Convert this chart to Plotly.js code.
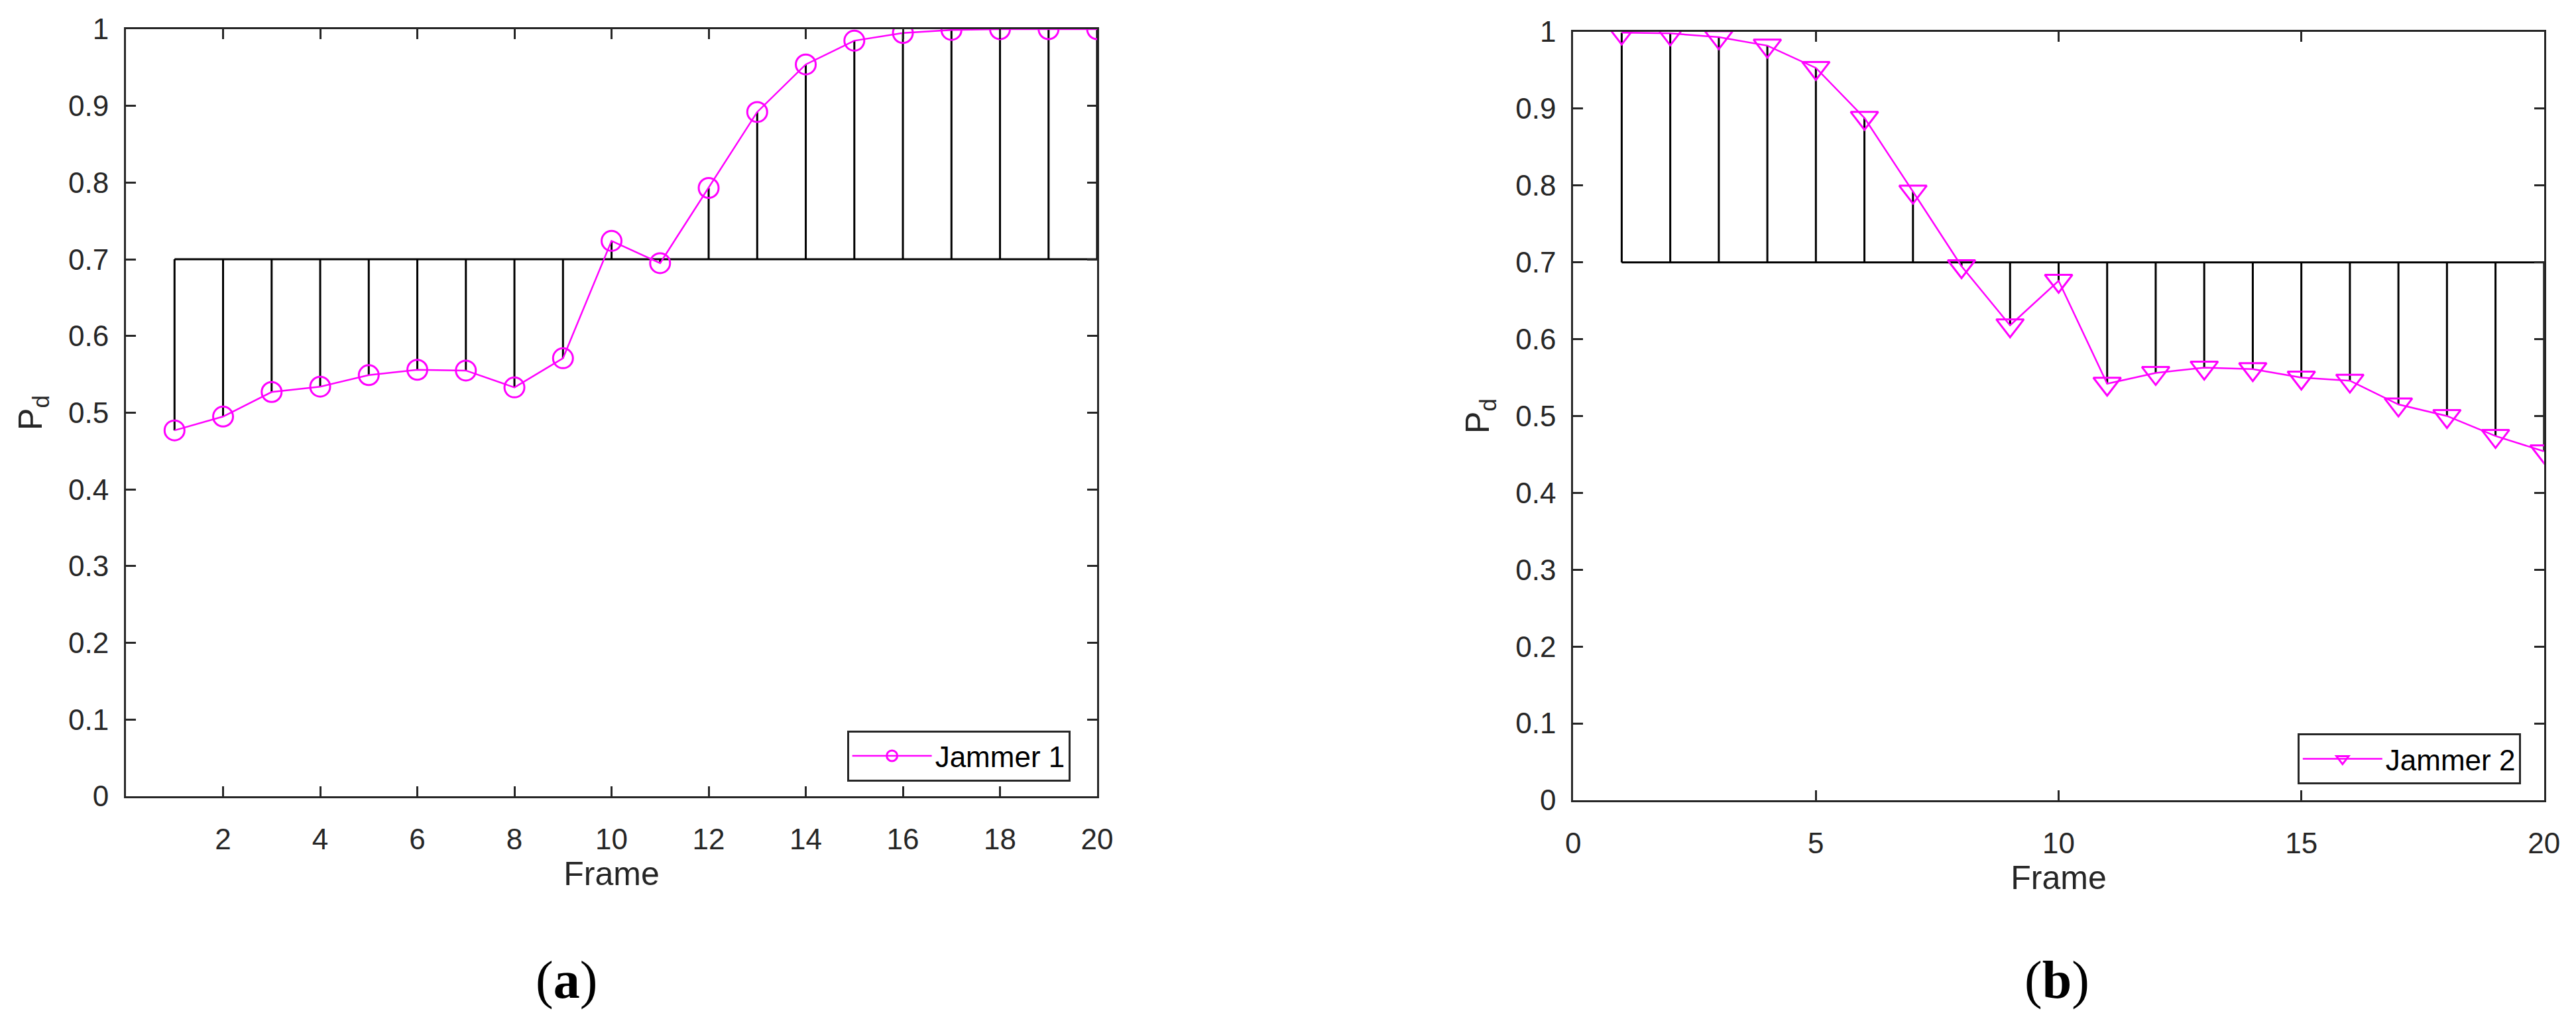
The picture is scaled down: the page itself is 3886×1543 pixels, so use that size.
<!DOCTYPE html>
<html>
<head>
<meta charset="utf-8">
<script src="https://cdn.plot.ly/plotly-3.0.1.min.js"></script>
<style>
  html, body { margin: 0; padding: 0; background: #ffffff; }
  #chart { width: 3886px; height: 1543px; }
</style>
</head>
<body>
<div id="chart"></div>
<script>
// Detection probability per frame
const frames = [1, 2, 3, 4, 5, 6, 7, 8, 9, 10, 11, 12, 13, 14, 15, 16, 17, 18, 19, 20];
const jammer1Pd = [0.477, 0.495, 0.527, 0.534, 0.549, 0.556, 0.555, 0.533, 0.571, 0.724,
                   0.695, 0.793, 0.892, 0.954, 0.985, 0.995, 0.999, 1.0, 1.0, 1.0];
const jammer2Pd = [0.999, 0.998, 0.993, 0.982, 0.953, 0.888, 0.792, 0.695, 0.618, 0.676,
                   0.542, 0.556, 0.563, 0.561, 0.550, 0.546, 0.515, 0.500, 0.474, 0.454];
const baseValue = 0.7;   // stem base (threshold)

const xTicksA = [2, 4, 6, 8, 10, 12, 14, 16, 18, 20];
const xTicksB = [0, 5, 10, 15, 20];
const yTicks = [0, 0.1, 0.2, 0.3, 0.4, 0.5, 0.6, 0.7, 0.8, 0.9, 1];
const yTickText = ['0', '0.1', '0.2', '0.3', '0.4', '0.5', '0.6', '0.7', '0.8', '0.9', '1'];

const axisColor = '#262626';
const magenta = '#FF00FF';
const sansFont = 'Liberation Sans, Arial, Helvetica, sans-serif';
const serifFont = 'Liberation Serif, Times New Roman, serif';

// stem lines: vertical segments from the base value to each point
function stemTrace(x, y, xa, ya) {
  const sx = [], sy = [];
  x.forEach((xi, i) => {
    sx.push(xi, xi, null);
    sy.push(baseValue, y[i], null);
  });
  return {
    x: sx, y: sy, xaxis: xa, yaxis: ya,
    type: 'scatter', mode: 'lines',
    line: { color: '#000000', width: 3 },
    showlegend: false, hoverinfo: 'skip'
  };
}

function baseTrace(x, xa, ya) {
  return {
    x: [x[0], x[x.length - 1]], y: [baseValue, baseValue], xaxis: xa, yaxis: ya,
    type: 'scatter', mode: 'lines',
    line: { color: '#000000', width: 3 },
    showlegend: false, hoverinfo: 'skip'
  };
}

const traces = [
  baseTrace(frames, 'x', 'y'),
  stemTrace(frames, jammer1Pd, 'x', 'y'),
  {
    x: frames, y: jammer1Pd, xaxis: 'x', yaxis: 'y',
    type: 'scatter', mode: 'lines+markers', name: 'Jammer 1',
    line: { color: magenta, width: 2.5 },
    marker: { symbol: 'circle-open', size: 30, color: magenta, line: { color: magenta, width: 3 } },
    legend: 'legend'
  },
  baseTrace(frames, 'x2', 'y2'),
  stemTrace(frames, jammer2Pd, 'x2', 'y2'),
  {
    x: frames, y: jammer2Pd, xaxis: 'x2', yaxis: 'y2',
    type: 'scatter', mode: 'lines+markers', name: 'Jammer 2',
    line: { color: magenta, width: 2.5 },
    marker: { symbol: 'triangle-down-open', size: 36, color: magenta, line: { color: magenta, width: 3 } },
    legend: 'legend2'
  }
];

function xAxis(domain, tickvals, anchor) {
  return {
    domain: domain, anchor: anchor,
    range: [0, 20],
    tickmode: 'array', tickvals: tickvals,
    showline: true, mirror: 'ticks', linecolor: axisColor, linewidth: 3,
    ticks: 'inside', ticklen: 15, tickwidth: 3, tickcolor: axisColor,
    showgrid: false, zeroline: false,
    tickfont: { family: sansFont, size: 44, color: axisColor },
    ticklabelstandoff: 24,
    title: { text: 'Frame', font: { family: sansFont, size: 50, color: axisColor }, standoff: 4 }
  };
}

function yAxis(domain, anchor) {
  return {
    domain: domain, anchor: anchor,
    range: [0, 1],
    tickmode: 'array', tickvals: yTicks, ticktext: yTickText,
    showline: true, mirror: 'ticks', linecolor: axisColor, linewidth: 3,
    ticks: 'inside', ticklen: 15, tickwidth: 3, tickcolor: axisColor,
    showgrid: false, zeroline: false,
    tickfont: { family: sansFont, size: 44, color: axisColor },
    ticklabelstandoff: 14,
    title: { text: 'P<sub>d</sub>', font: { family: sansFont, size: 50, color: axisColor }, standoff: 24 }
  };
}

function legendBox(x, y) {
  return {
    x: x, y: y, xanchor: 'right', yanchor: 'bottom',
    xref: 'paper', yref: 'paper',
    bgcolor: '#ffffff', bordercolor: axisColor, borderwidth: 3,
    font: { family: sansFont, size: 44, color: '#000000' },
    itemwidth: 120
  };
}

function panelLabel(letter, x) {
  return {
    text: '(<b>' + letter + '</b>)', x: x, y: 0.042,
    xref: 'paper', yref: 'paper', xanchor: 'center', yanchor: 'middle',
    showarrow: false, font: { family: serifFont, size: 80, color: '#000000' }
  };
}

const layout = {
  width: 3886, height: 1543,
  margin: { l: 0, r: 0, t: 0, b: 0 },
  paper_bgcolor: '#ffffff', plot_bgcolor: '#ffffff',
  xaxis: xAxis([0.0489, 0.4259], xTicksA, 'y'),
  yaxis: yAxis([0.2216, 0.9715], 'x'),
  xaxis2: xAxis([0.6107, 0.9876], xTicksB, 'y2'),
  yaxis2: yAxis([0.2178, 0.9689], 'x2'),
  legend: legendBox(0.4155, 0.236),
  legend2: legendBox(0.9786, 0.233),
  annotations: [panelLabel('a', 0.22), panelLabel('b', 0.7985)]
};

Plotly.newPlot('chart', traces, layout, { staticPlot: true, displayModeBar: false });
</script>
</body>
</html>
